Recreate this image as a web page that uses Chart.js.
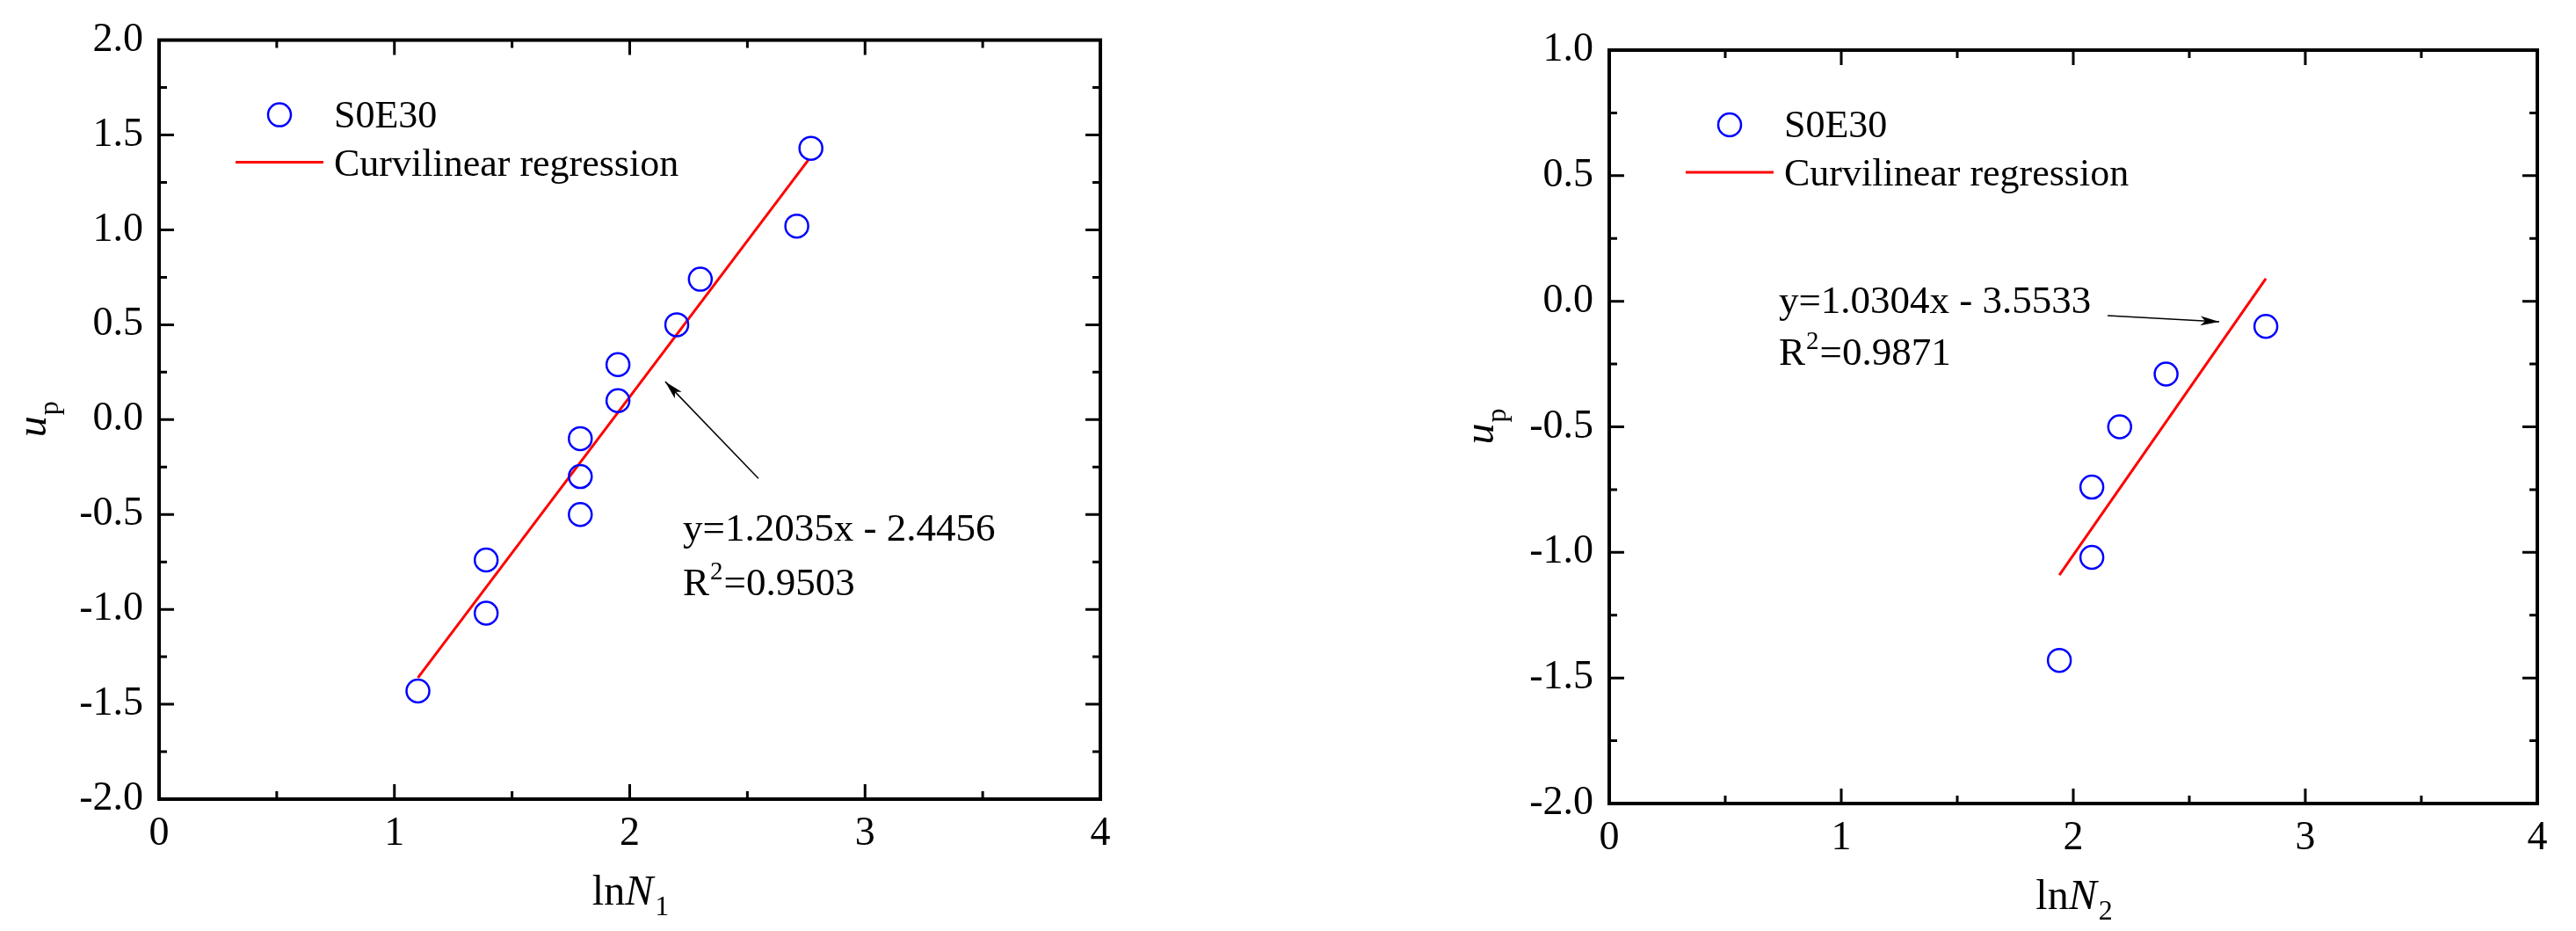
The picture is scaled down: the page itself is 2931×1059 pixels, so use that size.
<!DOCTYPE html>
<html>
<head>
<meta charset="utf-8">
<script src="https://cdn.jsdelivr.net/npm/chart.js@4.4.0/dist/chart.umd.min.js"></script>
<style>
  body { margin: 0; background: #fff; width: 2931px; height: 1059px; position: relative; overflow: hidden; }
  canvas { position: absolute; top: 0; }
</style>
</head>
<body>
<canvas id="chart1" width="1460" height="1059" style="left:0px"></canvas>
<canvas id="chart2" width="1471" height="1059" style="left:1460px"></canvas>
<script>
// data
const seriesName = 'S0E30';
const fitName = 'Curvilinear regression';

const lnN1 = [1.10, 1.39, 1.39, 1.79, 1.79, 1.79, 1.95, 1.95, 2.20, 2.30, 2.71, 2.77];
const up1 = [-1.43, -0.74, -1.02, -0.10, -0.30, -0.50, 0.29, 0.10, 0.50, 0.74, 1.02, 1.43];
const fitX1 = [1.10, 2.76];
const fitY1 = [-1.36, 1.37];

const lnN2 = [1.94, 2.08, 2.08, 2.20, 2.40, 2.83];
const up2 = [-1.43, -1.02, -0.74, -0.50, -0.29, -0.10];
const fitX2 = [1.94, 2.83];
const fitY2 = [-1.09, 0.09];

const xTicks = [0, 1, 2, 3, 4];
const yTicks1 = [-2.0, -1.5, -1.0, -0.5, 0.0, 0.5, 1.0, 1.5, 2.0];
const yTicks2 = [-2.0, -1.5, -1.0, -0.5, 0.0, 0.5, 1.0];

const eq1 = ['y=1.2035x - 2.4456', '=0.9503'];
const eq2 = ['y=1.0304x - 3.5533', '=0.9871'];

const FONT = 'Liberation Serif';
Chart.defaults.font.family = FONT;

const deco = {
  id: 'deco',
  afterDraw(chart, args, o) {
    const { ctx, chartArea: a, scales: { x, y } } = chart;
    ctx.save();
    ctx.strokeStyle = '#000';
    ctx.fillStyle = '#000';

    // inward ticks on all four sides, minor ticks halfway
    ctx.lineWidth = 3;
    const tickRun = (vals, scale, draw) => {
      vals.forEach((v, i) => {
        draw(scale.getPixelForValue(v), 17);
        if (i < vals.length - 1) draw(scale.getPixelForValue((v + vals[i + 1]) / 2), 9);
      });
    };
    ctx.beginPath();
    tickRun(xTicks, x, (p, len) => {
      ctx.moveTo(p, a.bottom); ctx.lineTo(p, a.bottom - len);
      ctx.moveTo(p, a.top); ctx.lineTo(p, a.top + len);
    });
    tickRun(o.yTicks, y, (p, len) => {
      ctx.moveTo(a.left, p); ctx.lineTo(a.left + len, p);
      ctx.moveTo(a.right, p); ctx.lineTo(a.right - len, p);
    });
    ctx.stroke();

    ctx.lineWidth = 4;
    ctx.strokeRect(a.left, a.top, a.right - a.left, a.bottom - a.top);

    // y title: u (italic) with subscript p, rotated
    ctx.save();
    ctx.translate(a.left - o.yTitleOff, (a.top + a.bottom) / 2);
    ctx.rotate(-Math.PI / 2);
    ctx.font = 'italic 48px ' + FONT;
    const wu = ctx.measureText('u').width;
    ctx.font = '32px ' + FONT;
    const wp = ctx.measureText('p').width;
    let sx = -(wu + wp) / 2;
    ctx.textAlign = 'left';
    ctx.textBaseline = 'alphabetic';
    ctx.font = 'italic 48px ' + FONT;
    ctx.fillText('u', sx, 2);
    ctx.font = '32px ' + FONT;
    ctx.fillText('p', sx + wu + 1, 16);
    ctx.restore();

    // x title: ln N (italic) with subscript
    const cx = (a.left + a.right) / 2;
    const by = a.bottom + 120;
    ctx.font = '48px ' + FONT;
    const wl = ctx.measureText('ln').width;
    ctx.font = 'italic 48px ' + FONT;
    const wn = ctx.measureText('N').width;
    ctx.font = '32px ' + FONT;
    const ws = ctx.measureText(o.sub).width;
    sx = cx - (wl + wn + ws) / 2;
    ctx.textAlign = 'left';
    ctx.font = '48px ' + FONT;
    ctx.fillText('ln', sx, by);
    ctx.font = 'italic 48px ' + FONT;
    ctx.fillText('N', sx + wl, by);
    ctx.font = '32px ' + FONT;
    ctx.fillText(o.sub, sx + wl + wn + 2, by + 12);

    // legend inside plot
    const ds = chart.data.datasets;
    ctx.strokeStyle = ds[0].borderColor;
    ctx.lineWidth = 2.5;
    ctx.beginPath();
    ctx.arc(a.left + 137, a.top + 85, 13, 0, Math.PI * 2);
    ctx.stroke();
    ctx.strokeStyle = ds[1].borderColor;
    ctx.lineWidth = 3;
    ctx.beginPath();
    ctx.moveTo(a.left + 87, a.top + 139);
    ctx.lineTo(a.left + 187, a.top + 139);
    ctx.stroke();
    ctx.font = '44px ' + FONT;
    ctx.fillText(ds[0].label, a.left + 199, a.top + 99);
    ctx.fillText(ds[1].label, a.left + 199, a.top + 154);

    // equation text and arrow
    const ex = x.getPixelForValue(o.eqAt[0]);
    ctx.font = '45px ' + FONT;
    ctx.fillText(o.eq[0], ex, y.getPixelForValue(o.eqAt[1]));
    const ry = y.getPixelForValue(o.eqAt[2]);
    ctx.fillText('R', ex, ry);
    const wr = ctx.measureText('R').width;
    ctx.font = '29px ' + FONT;
    ctx.fillText('2', ex + wr + 1, ry - 18);
    const w2 = ctx.measureText('2').width;
    ctx.font = '45px ' + FONT;
    ctx.fillText(o.eq[1], ex + wr + w2 + 2, ry);

    const x0 = x.getPixelForValue(o.arrow[0]), y0 = y.getPixelForValue(o.arrow[1]);
    const x1 = x.getPixelForValue(o.arrow[2]), y1 = y.getPixelForValue(o.arrow[3]);
    ctx.strokeStyle = '#000';
    ctx.lineWidth = 1.5;
    ctx.beginPath();
    ctx.moveTo(x0, y0);
    ctx.lineTo(x1, y1);
    ctx.stroke();
    const ang = Math.atan2(y1 - y0, x1 - x0);
    ctx.beginPath();
    ctx.moveTo(x1, y1);
    ctx.lineTo(x1 - 22 * Math.cos(ang - 0.25), y1 - 22 * Math.sin(ang - 0.25));
    ctx.lineTo(x1 - 16 * Math.cos(ang), y1 - 16 * Math.sin(ang));
    ctx.lineTo(x1 - 22 * Math.cos(ang + 0.25), y1 - 22 * Math.sin(ang + 0.25));
    ctx.closePath();
    ctx.fill();

    ctx.restore();
  }
};

function makeChart(id, xs, ys, fx, fy, yTicks, cfg) {
  const ctx = document.getElementById(id).getContext('2d');
  return new Chart(ctx, {
    type: 'scatter',
    data: {
      datasets: [{
        label: seriesName,
        data: xs.map((v, i) => ({ x: v, y: ys[i] })),
        pointStyle: 'circle',
        pointRadius: 13,
        pointHoverRadius: 13,
        borderColor: '#0000ff',
        backgroundColor: 'rgba(0,0,0,0)',
        borderWidth: 2.5
      }, {
        type: 'line',
        label: fitName,
        data: fx.map((v, i) => ({ x: v, y: fy[i] })),
        borderColor: '#ff0000',
        borderWidth: 3,
        pointRadius: 0,
        showLine: true,
        fill: false
      }]
    },
    options: {
      responsive: false,
      animation: false,
      layout: { padding: { left: 0, top: cfg.top, right: cfg.right, bottom: 0 } },
      plugins: {
        legend: { display: false },
        tooltip: { enabled: false },
        deco: Object.assign({ yTicks: yTicks }, cfg.deco)
      },
      scales: {
        x: {
          type: 'linear',
          min: 0,
          max: 4,
          afterBuildTicks: s => { s.ticks = xTicks.map(v => ({ value: v })); },
          afterFit: s => { s.height = cfg.xh; },
          ticks: { font: { size: 46 }, color: '#000', padding: 12, callback: v => String(v) },
          grid: { display: false, drawTicks: false },
          border: { display: false }
        },
        y: {
          type: 'linear',
          min: yTicks[0],
          max: yTicks[yTicks.length - 1],
          afterBuildTicks: s => { s.ticks = yTicks.map(v => ({ value: v })); },
          afterFit: s => { s.width = cfg.yw; },
          ticks: { font: { size: 46 }, color: '#000', padding: 18, callback: v => v.toFixed(1) },
          grid: { display: false, drawTicks: false },
          border: { display: false }
        }
      }
    },
    plugins: [deco]
  });
}

// left panel
makeChart('chart1', lnN1, up1, fitX1, fitY1, yTicks1, {
  top: 44, right: 1460 - 1252, yw: 181, xh: 1059 - 909,
  deco: { sub: '1', yTitleOff: 131, eq: eq1, eqAt: [2.226, -0.636, -0.923], arrow: [2.547, -0.31, 2.151, 0.20] }
});

// right panel
makeChart('chart2', lnN2, up2, fitX2, fitY2, yTicks2, {
  top: 57, right: 2931 - 2887, yw: 1831 - 1460, xh: 1059 - 914,
  deco: { sub: '2', yTitleOff: 134, eq: eq2, eqAt: [0.731, -0.047, -0.253], arrow: [2.148, -0.057, 2.629, -0.082] }
});
</script>
</body>
</html>
